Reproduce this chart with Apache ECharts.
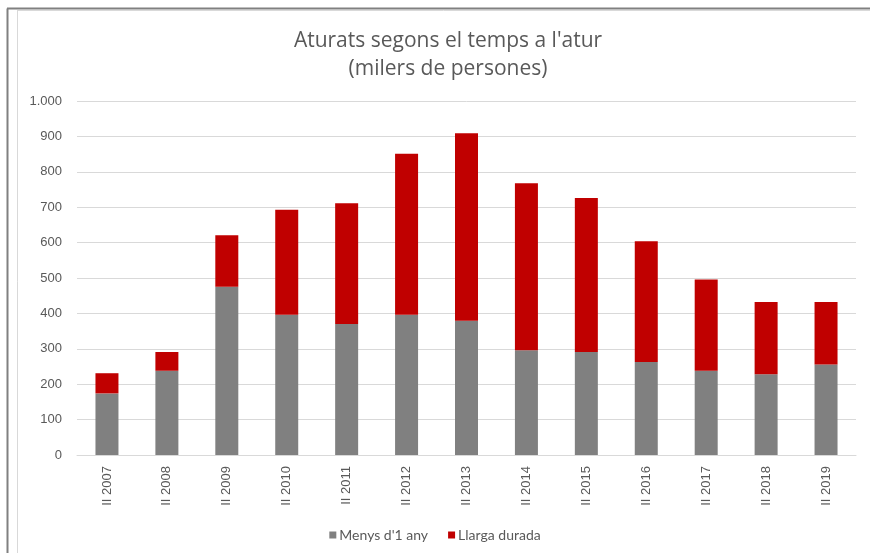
<!DOCTYPE html>
<html>
<head>
<meta charset="utf-8">
<script src="https://cdn.jsdelivr.net/npm/echarts@6/dist/echarts.min.js"></script>
<style>
  html, body { margin: 0; padding: 0; background: #fff; }
  #main { width: 870px; height: 553px; }
</style>
</head>
<body>
<div id="main"></div>
<script>
// data (milers de persones)
var years = ['II 2007', 'II 2008', 'II 2009', 'II 2010', 'II 2011', 'II 2012', 'II 2013',
             'II 2014', 'II 2015', 'II 2016', 'II 2017', 'II 2018', 'II 2019'];
var menys1any = [174, 238, 475, 396, 370, 396, 379, 296, 291, 263, 238, 228, 256];
var llargaDurada = [57, 53, 146, 297, 341, 455, 530, 472, 435, 341, 258, 204, 176];

var myChart = echarts.init(document.getElementById('main'));

var option = {
  animation: false,
  backgroundColor: '#fff',
  title: {
    text: "Aturats segons el temps a l'atur\n(milers de persones)",
    left: 443,
    top: 22,
    textAlign: 'center',
    textStyle: {
      fontFamily: 'Open Sans',
      fontWeight: 'normal',
      fontSize: 21,
      lineHeight: 28,
      color: '#595959'
    }
  },
  graphic: [
    // outer frame + inner chart border
    { type: 'line', shape: { x1: 7.5, y1: 8.5, x2: 7.5, y2: 553 }, style: { stroke: '#808080', lineWidth: 2 } },
    { type: 'line', shape: { x1: 7, y1: 8.5, x2: 870, y2: 8.5 }, style: { stroke: '#808080', lineWidth: 2 } },
    { type: 'line', shape: { x1: 17.5, y1: 10.5, x2: 17.5, y2: 553 }, style: { stroke: '#d9d9d9', lineWidth: 1 } },
    { type: 'line', shape: { x1: 17, y1: 10.5, x2: 870, y2: 10.5 }, style: { stroke: '#d9d9d9', lineWidth: 1 } }
  ],
  legend: {
    data: ["Menys d'1 any", 'Llarga durada'],
    left: 'center',
    top: 523,
    itemWidth: 7,
    itemHeight: 7,
    itemGap: 20,
    icon: 'rect',
    textStyle: { fontFamily: 'Lato', fontSize: 14, color: '#595959', padding: [0, 0, 0, -2] }
  },
  grid: {
    left: 77,
    right: 14,
    top: 101,
    bottom: 98
  },
  xAxis: {
    type: 'category',
    data: years,
    axisTick: { show: false },
    axisLine: { lineStyle: { color: '#d9d9d9' } },
    axisLabel: {
      rotate: 90,
      interval: 0,
      margin: 11,
      fontFamily: 'Liberation Sans',
      fontSize: 13,
      color: '#595959'
    }
  },
  yAxis: {
    type: 'value',
    min: 0,
    max: 1000,
    interval: 100,
    axisLine: { show: false },
    axisTick: { show: false },
    splitLine: { lineStyle: { color: '#d9d9d9' } },
    axisLabel: {
      margin: 15,
      fontFamily: 'Liberation Sans',
      fontSize: 13,
      color: '#595959',
      formatter: function (v) {
        return v >= 1000 ? (v / 1000) + '.' + String(v % 1000).padStart(3, '0') : String(v);
      }
    }
  },
  series: [
    {
      name: "Menys d'1 any",
      type: 'bar',
      stack: 'total',
      barWidth: 23,
      itemStyle: { color: '#808080' },
      data: menys1any
    },
    {
      name: 'Llarga durada',
      type: 'bar',
      stack: 'total',
      barWidth: 23,
      itemStyle: { color: '#c00000' },
      data: llargaDurada
    }
  ]
};

myChart.setOption(option);
</script>
</body>
</html>
